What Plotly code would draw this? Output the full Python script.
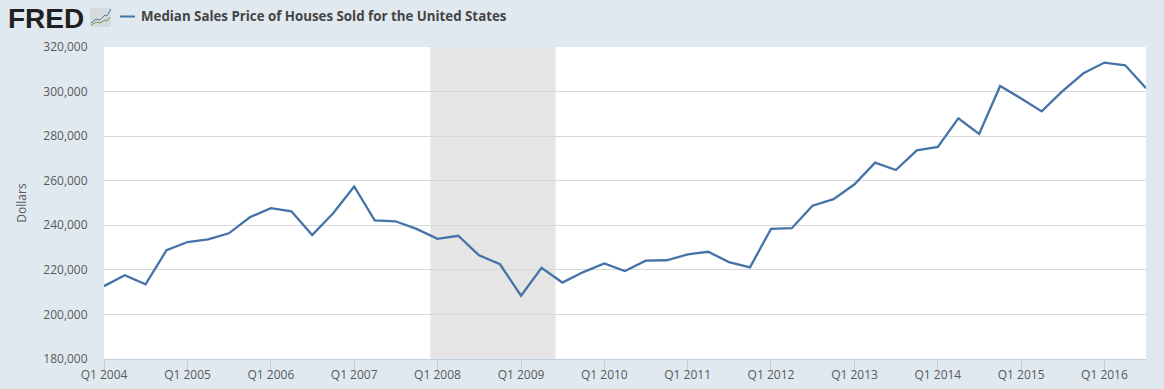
import plotly.graph_objects as go

quarters = [f"{y}-{m:02d}-01" for y in range(2004, 2017) for m in (1, 4, 7, 10)][:51]
prices = [212700, 217600, 213500, 228800, 232500, 233700, 236400, 243600,
          247700, 246300, 235600, 245400, 257400, 242200, 241800, 238400,
          233900, 235300, 226500, 222500, 208400, 220900, 214300, 219000,
          222900, 219500, 224100, 224300, 226900, 228100, 223500, 221100,
          238400, 238700, 248800, 251700, 258400, 268100, 264800, 273600,
          275200, 288000, 281000, 302500, 296900, 291100, 300200, 308200,
          313000, 311800, 301500]
tick_dates = [f"{y}-01-01" for y in range(2004, 2017)]
tick_labels = [f"Q1 {y}" for y in range(2004, 2017)]
y_ticks = list(range(180000, 320001, 20000))
series_name = "Median Sales Price of Houses Sold for the United States"
recession = ("2007-12-01", "2009-06-01")

BG = "#e1e9f0"
LINE = "#4572a7"
FONT = "Open Sans, Noto Sans, sans-serif"
W, H, L, R, T, B = 1164, 389, 104, 18, 47, 30


def px(x):
    return (x - L) / (W - L - R)


def py(y):
    return 1 - (y - T) / (H - T - B)


def poly(points, color, width=1):
    path = "M " + " L ".join(f"{px(a):.5f},{py(b):.5f}" for a, b in points)
    return dict(type="path", xref="paper", yref="paper", path=path,
                line=dict(color=color, width=width))


fig = go.Figure(go.Scatter(x=quarters, y=prices, mode="lines",
                           line=dict(color=LINE, width=2.3), hoverinfo="x+y"))
shapes = [
    dict(type="rect", xref="x", yref="paper", x0=recession[0], x1=recession[1], y0=0, y1=1,
         fillcolor="#e5e5e5", line_width=0, layer="below"),
    dict(type="line", xref="paper", yref="paper", x0=px(120), x1=px(135), y0=py(16.5), y1=py(16.5),
         line=dict(color=LINE, width=2)),
    dict(type="rect", xref="paper", yref="paper", x0=px(90), x1=px(111), y0=py(27), y1=py(8),
         fillcolor="#d5dade", line_width=0),
    poly([(91, 23), (96, 19), (100, 20), (105, 15), (107, 16), (111, 9)], "#4f7ba6"),
    poly([(91, 25), (96, 22), (100, 23), (105, 20), (107, 21), (110, 17)], "#6f9a48"),
]
fig.update_layout(
    width=W, height=H, autosize=False, showlegend=False,
    paper_bgcolor=BG, plot_bgcolor="#ffffff",
    margin=dict(l=L, r=R, t=T, b=B),
    font=dict(family=FONT, size=12, color="#595959"),
    xaxis=dict(type="date", range=["2004-01-01", "2016-07-01"], automargin=False,
               tickvals=tick_dates, ticktext=tick_labels, ticks="outside",
               ticklen=10, tickcolor="#c0d0e0", tickwidth=1, showline=True,
               linecolor="#c0d0e0", linewidth=1, showgrid=False, ticklabelstandoff=-5,
               tickfont=dict(size=12, color="#595959")),
    yaxis=dict(range=[180000, 320000], tickvals=y_ticks, tickformat=",d", automargin=False,
               gridcolor="#d8d8d8", gridwidth=1, zeroline=False, showline=False,
               ticks="outside", ticklen=13, tickcolor="rgba(0,0,0,0)",
               tickfont=dict(size=12, color="#595959"),
               title=dict(text="Dollars", font=dict(size=12, color="#595959"), standoff=14)),
    annotations=[
        dict(text="<b>FRED</b>", xref="paper", yref="paper",
             x=px(6), y=py(18.5), xanchor="left", yanchor="middle", showarrow=False,
             font=dict(family="Liberation Sans, Arial, sans-serif", size=28, color="#231f20")),
        dict(text="<b>" + series_name + "</b>", xref="paper", yref="paper",
             x=px(139), y=py(16.5), xanchor="left", yanchor="middle", showarrow=False,
             font=dict(family="Open Sans, sans-serif", size=13.3, color="#444444")),
    ],
    shapes=shapes,
)
fig.write_html("out.html", config=dict(displayModeBar=False),
               post_script=f"document.body.style.margin='0';document.body.style.background='{BG}';")
